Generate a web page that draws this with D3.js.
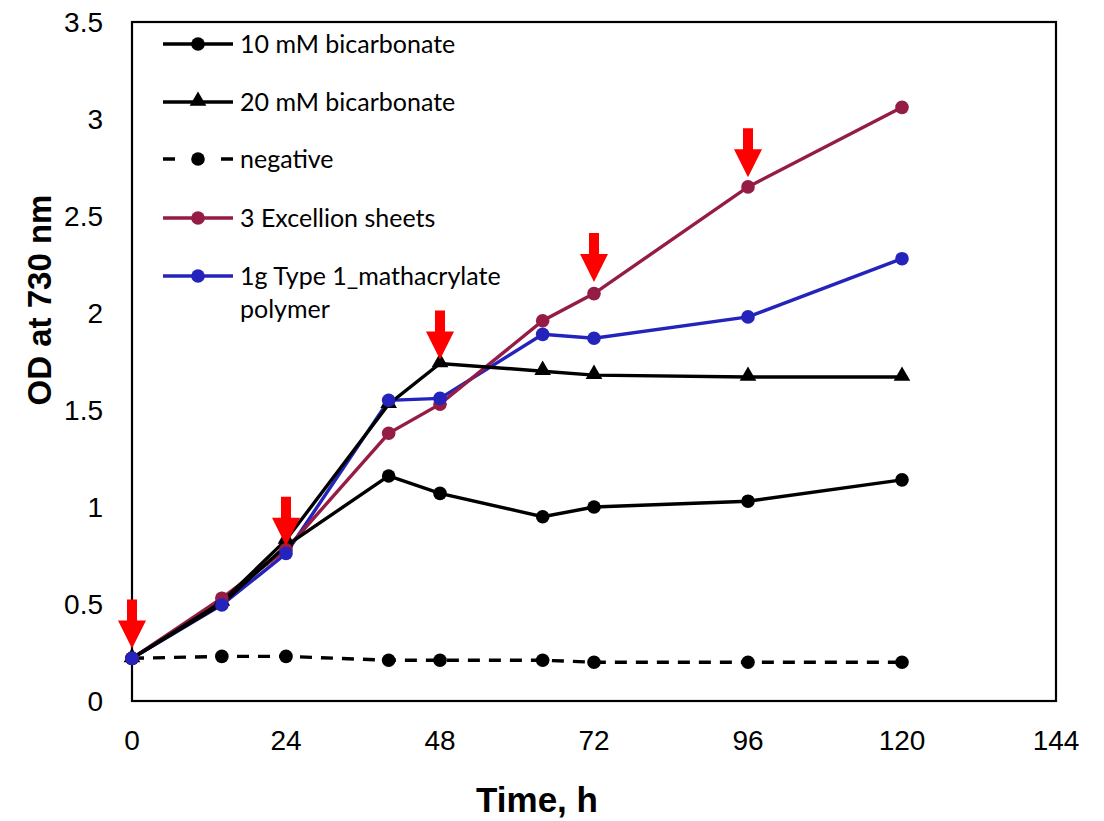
<!DOCTYPE html>
<html>
<head>
<meta charset="utf-8">
<script src="https://cdn.jsdelivr.net/npm/d3@7"></script>
<style>
  body { margin: 0; background: #fff; }
</style>
</head>
<body>
<div id="plot1"></div>
<script>
// sampling times (h)
var times = [0, 14, 24, 40, 48, 64, 72, 96, 120];

// OD at 730 nm
var bicarb10 = [0.22, 0.50, 0.80, 1.16, 1.07, 0.95, 1.00, 1.03, 1.14];
var bicarb20 = [0.22, 0.51, 0.83, 1.53, 1.74, 1.70, 1.68, 1.67, 1.67];
var negative = [0.22, 0.23, 0.23, 0.21, 0.21, 0.21, 0.20, 0.20, 0.20];
var excellion = [0.22, 0.53, 0.78, 1.38, 1.53, 1.96, 2.10, 2.65, 3.06];
var polymer = [0.22, 0.495, 0.76, 1.55, 1.56, 1.89, 1.87, 1.98, 2.28];

var seriesNames = ["10 mM bicarbonate", "20 mM bicarbonate", "negative",
                   "3 Excellion sheets", "1g Type 1_mathacrylate polymer"];

// red arrows (feeding points): time and OD at arrow tip
var arrowTimes = [0, 24, 48, 72, 96];
var arrowTips = [0.27, 0.80, 1.76, 2.16, 2.70];

var xTicks = [0, 24, 48, 72, 96, 120, 144];
var yTicks = [0, 0.5, 1, 1.5, 2, 2.5, 3, 3.5];

var series = [
  {name: seriesNames[0], values: bicarb10, color: "#000000", marker: "circle", dash: null},
  {name: seriesNames[1], values: bicarb20, color: "#000000", marker: "triangle", dash: null},
  {name: seriesNames[2], values: negative, color: "#000000", marker: "circle", dash: "12,9"},
  {name: seriesNames[3], values: excellion, color: "#951C45", marker: "circle", dash: null},
  {name: seriesNames[4], values: polymer, color: "#2424BC", marker: "circle", dash: null}
];

var width = 1104, height = 821;
var plotLeft = 132, plotRight = 1056, plotTop = 22, plotBottom = 701;

var xScale = d3.scaleLinear().domain([0, 144]).range([plotLeft, plotRight]);
var yScale = d3.scaleLinear().domain([0, 3.5]).range([plotBottom, plotTop]);

var svg = d3.select("#plot1").append("svg")
  .attr("width", width)
  .attr("height", height);

// frame
svg.append("rect")
  .attr("x", plotLeft).attr("y", plotTop)
  .attr("width", plotRight - plotLeft).attr("height", plotBottom - plotTop)
  .attr("fill", "none")
  .attr("stroke", "#000")
  .attr("stroke-width", 2.2);

// tick labels
svg.append("g").selectAll("text")
  .data(yTicks)
  .enter().append("text")
  .attr("x", 103)
  .attr("y", function(d) { return yScale(d); })
  .attr("dy", "0.36em")
  .attr("text-anchor", "end")
  .attr("font-family", "Liberation Sans, Arial, sans-serif")
  .attr("font-size", 28)
  .text(function(d) { return d3.format("~g")(d); });

svg.append("g").selectAll("text")
  .data(xTicks)
  .enter().append("text")
  .attr("x", function(d) { return xScale(d); })
  .attr("y", 750)
  .attr("text-anchor", "middle")
  .attr("font-family", "Liberation Sans, Arial, sans-serif")
  .attr("font-size", 28)
  .text(function(d) { return d; });

// axis titles
svg.append("text")
  .attr("x", 537).attr("y", 812)
  .attr("text-anchor", "middle")
  .attr("font-family", "Liberation Sans, Arial, sans-serif")
  .attr("font-weight", "bold")
  .attr("font-size", 35)
  .text("Time, h");

svg.append("text")
  .attr("transform", "translate(51,300) rotate(-90)")
  .attr("text-anchor", "middle")
  .attr("font-family", "Liberation Sans, Arial, sans-serif")
  .attr("font-weight", "bold")
  .attr("font-size", 33)
  .text("OD at 730 nm");

var line = d3.line()
  .x(function(d, i) { return xScale(times[i]); })
  .y(function(d) { return yScale(d); });

var triangle = d3.symbol().type(d3.symbolTriangle).size(120);

function drawMarker(g, s, x, y) {
  if (s.marker == "triangle") {
    g.append("path")
      .attr("d", triangle)
      .attr("transform", "translate(" + x + "," + (y - 1) + ")")
      .attr("fill", s.color);
  } else {
    g.append("circle")
      .attr("cx", x).attr("cy", y).attr("r", 6.8)
      .attr("fill", s.color);
  }
}

// lines (last series first so the black ones sit on top), then markers
series.slice().reverse().forEach(function(s) {
  svg.append("path")
    .datum(s.values)
    .attr("d", line)
    .attr("fill", "none")
    .attr("stroke", s.color)
    .attr("stroke-width", 3.4)
    .attr("stroke-dasharray", s.dash);
});

series.forEach(function(s) {
  var g = svg.append("g");
  s.values.forEach(function(v, i) {
    drawMarker(g, s, xScale(times[i]), yScale(v));
  });
});

// red arrows
svg.append("g").selectAll("path")
  .data(arrowTimes)
  .enter().append("path")
  .attr("d", function(t, i) {
    var x = xScale(t), y = yScale(arrowTips[i]);
    return "M" + (x - 5) + "," + (y - 49) + "H" + (x + 5) + "V" + (y - 28) +
      "H" + (x + 14) + "L" + x + "," + y + "L" + (x - 14) + "," + (y - 28) +
      "H" + (x - 5) + "Z";
  })
  .attr("fill", "#FF0000");

// legend
var legend = svg.append("g");
var rowY = [44, 102, 159, 218, 276];

series.forEach(function(s, i) {
  var g = legend.append("g");
  g.append("line")
    .attr("x1", 163).attr("x2", 233)
    .attr("y1", rowY[i]).attr("y2", rowY[i])
    .attr("stroke", s.color)
    .attr("stroke-width", 3.4)
    .attr("stroke-dasharray", s.dash ? "12,46,12" : null);
  drawMarker(g, s, 198, rowY[i]);
  var t = g.append("text")
    .attr("x", 240)
    .attr("y", rowY[i] + 9)
    .attr("font-family", "Lato, sans-serif")
    .attr("font-size", 25);
  if (i == 4) {
    t.append("tspan").attr("x", 240).text("1g Type 1_mathacrylate");
    t.append("tspan").attr("x", 240).attr("dy", 33).text("polymer");
  } else {
    t.text(s.name);
  }
});
</script>
</body>
</html>
